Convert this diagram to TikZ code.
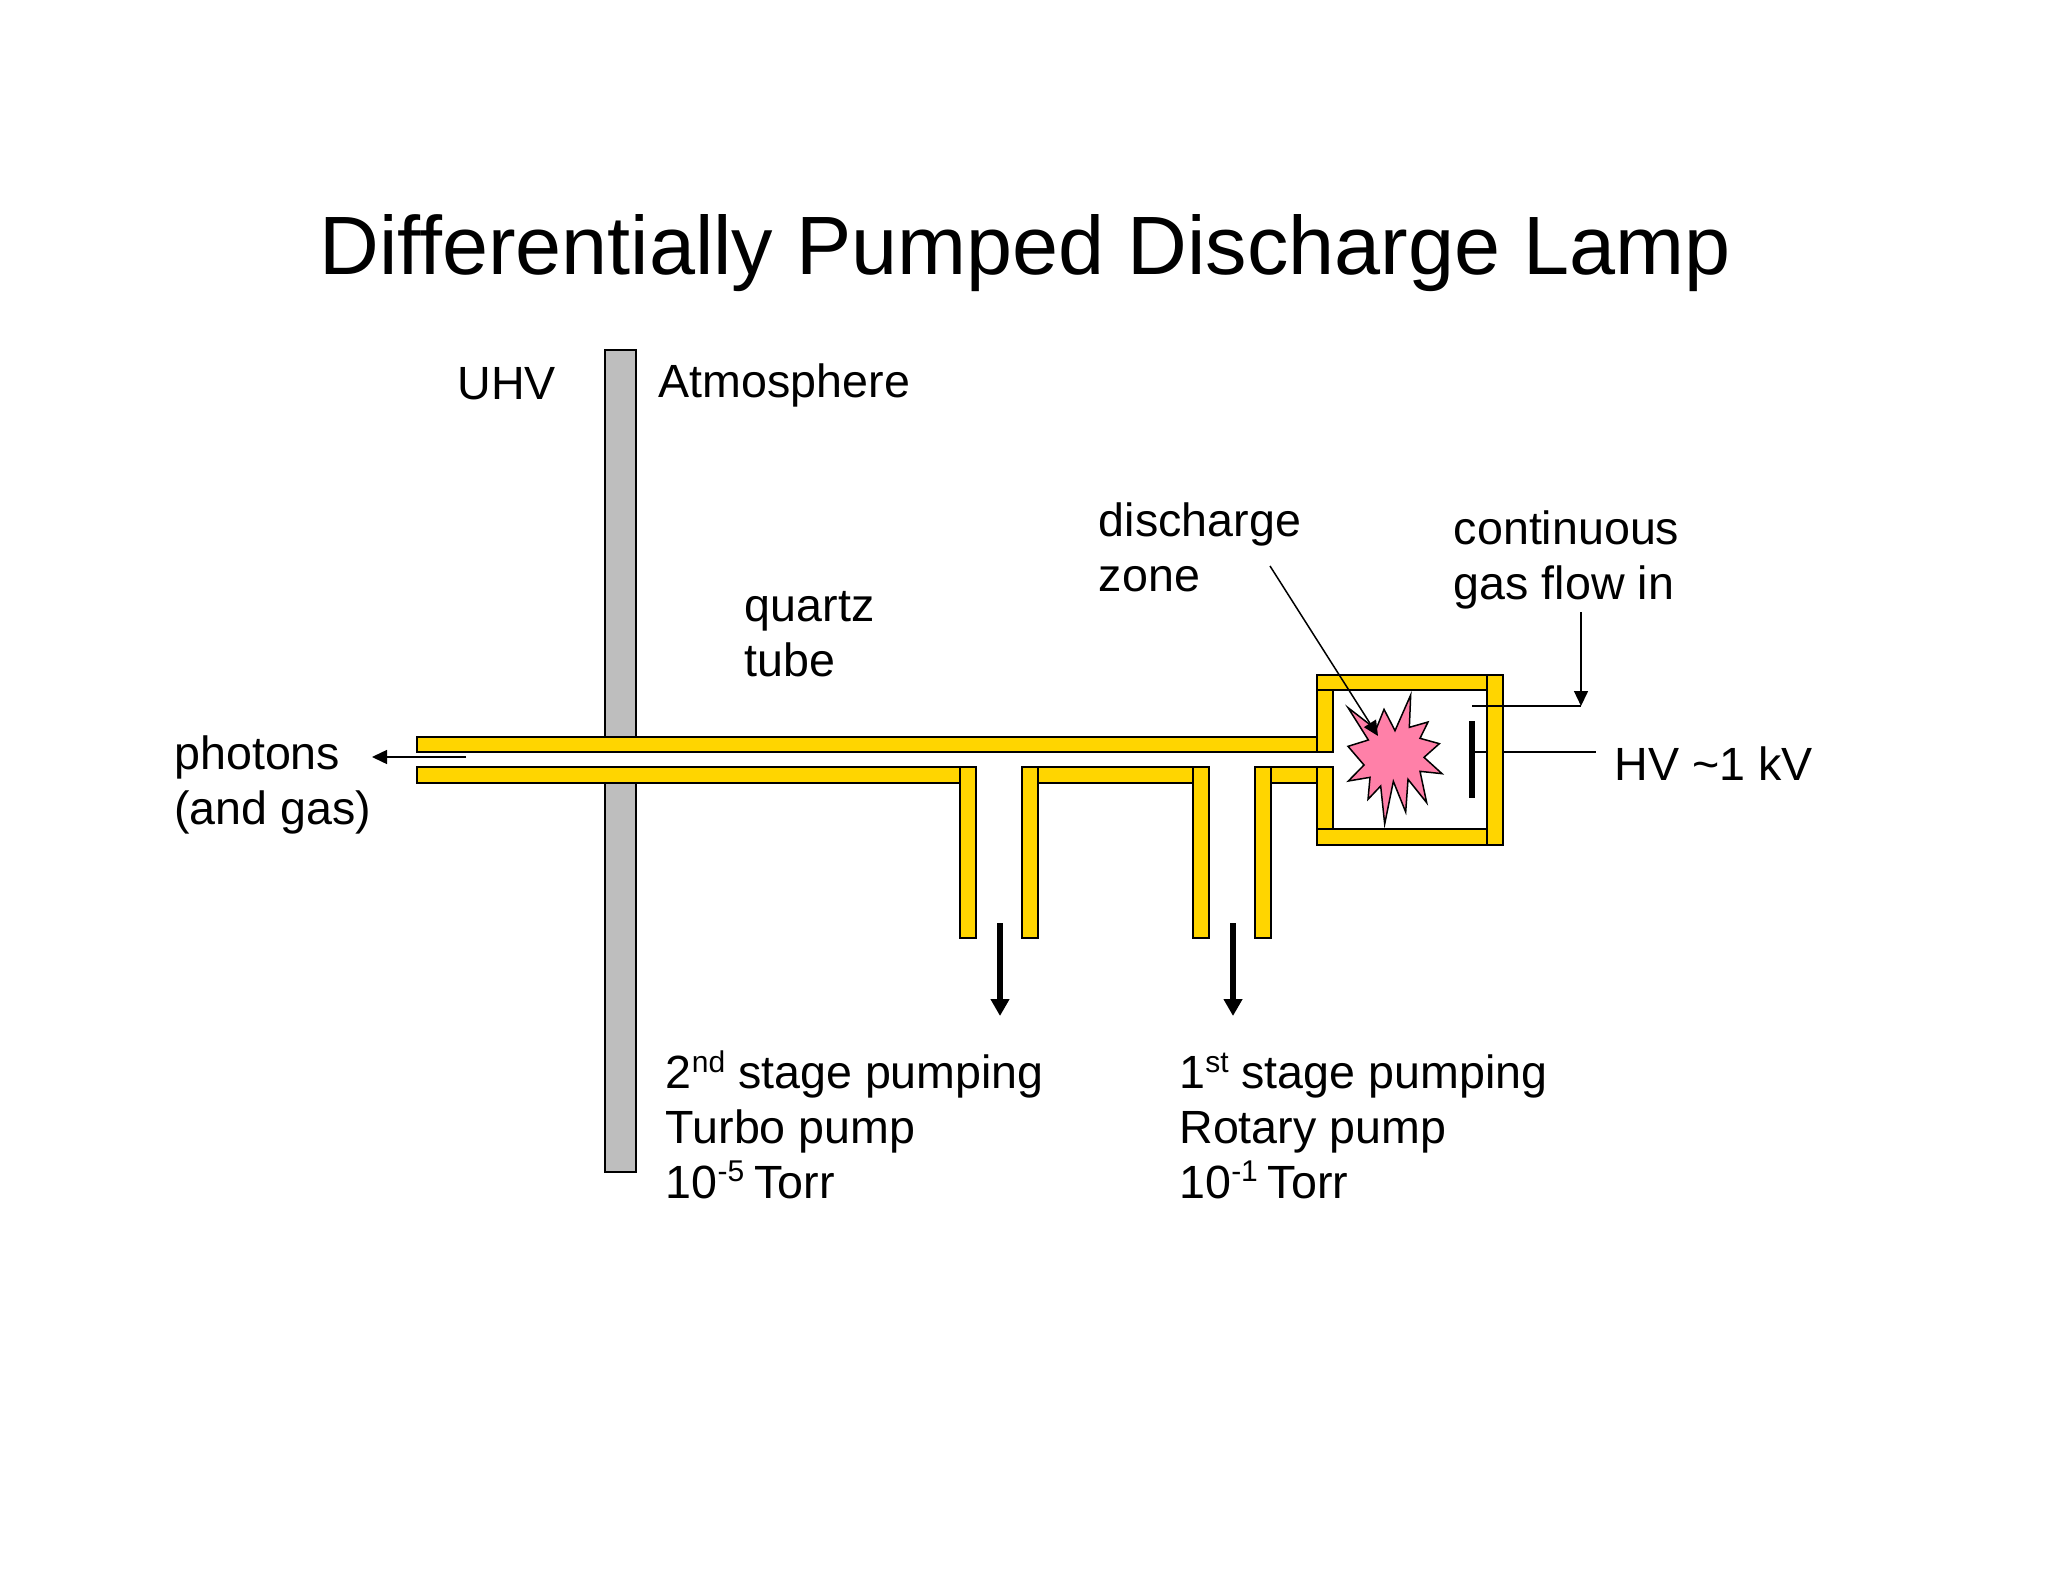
\documentclass[tikz,border=0pt]{standalone}
\usepackage{fontspec}
\setmainfont{Liberation Sans}
\usetikzlibrary{arrows.meta}
\definecolor{quartz}{HTML}{FFD500}
\definecolor{wallgrey}{HTML}{BEBEBE}
\definecolor{flash}{HTML}{FF80A8}
\newcommand{\supt}[1]{\raisebox{0.36em}{\fontsize{15}{18}\selectfont #1}}
\tikzset{
  x=0.5pt,y=-0.5pt,
  part/.style={draw=black,line width=0.85pt,fill=quartz},
  wall/.style={draw=black,line width=0.85pt,fill=wallgrey},
  label/.style={anchor=base west,inner sep=0pt,font=\fontsize{23.3}{27.3}\selectfont,align=left},
  thin line/.style={draw=black,line width=0.75pt},
  thin arrow/.style={thin line,-{Triangle[length=7.5pt,width=7pt]}},
  pump arrow/.style={draw=black,line width=3pt,-{Triangle[length=8.5pt,width=9pt]}},
}
\begin{document}
\begin{tikzpicture}
\useasboundingbox (0,0) rectangle (2048,1582);
\fill[white] (0,0) rectangle (2048,1582);
% title
\node[anchor=base,inner sep=0pt,font=\fontsize{41.4}{50}\selectfont] (title) at (1025,275) {Differentially Pumped Discharge Lamp};
% flange
\draw[wall] (605,350) rectangle (636,737);
\draw[wall] (605,783) rectangle (636,1172);
% tube
\draw[part] (417,737) rectangle (1317,752);
\draw[part] (417,767) rectangle (960,783);
\draw[part] (1038,767) rectangle (1193,783);
\draw[part] (1271,767) rectangle (1317,783);
\draw[part] (960,767) rectangle (976,938);
\draw[part] (1022,767) rectangle (1038,938);
\draw[part] (1193,767) rectangle (1209,938);
\draw[part] (1255,767) rectangle (1271,938);
% discharge box
\draw[part] (1317,690) rectangle (1333,752);
\draw[part] (1317,767) rectangle (1333,829);
\draw[part] (1317,675) rectangle (1487,690);
\draw[part] (1317,829) rectangle (1487,845);
\draw[part] (1487,675) rectangle (1503,845);
% discharge star
\draw[fill=flash,draw=black,line width=0.75pt,miter limit=10,shift={(1280,640)},x=0.16667pt,y=-0.16667pt]
 (392,165) -- (388,262) -- (444,246) -- (420,295) -- (478,311) -- (432,352) -- (486,401) -- (420,394)
 -- (440,488) -- (384,418) -- (377,516) -- (340,424) -- (314,552) -- (302,438) -- (264,478) -- (270,412)
 -- (205,423) -- (252,375) -- (204,319) -- (265,300) -- (204,203) -- (288,268) -- (312,208) -- (345,272) -- cycle;
% electrode
\fill[black] (1469,721) rectangle (1475,798);
\coordinate (electrode) at (1475,752);
\coordinate (rightwall) at (1487,752);
\draw[thin line] (electrode) -- (rightwall);
% connector ends
\coordinate (hvout) at (1503,752);
\coordinate (hvend) at (1596,752);
\coordinate (gasinner) at (1472,706);
\coordinate (gascorner) at (1581,706);
\coordinate (gastop) at (1581,612);
\coordinate (dztail) at (1270,566);
\coordinate (dzhead) at (1378,736);
\coordinate (phtail) at (466,757);
\coordinate (phhead) at (372,757);
\coordinate (p2a) at (1000,923);
\coordinate (p2b) at (1000,1016);
\coordinate (p1a) at (1233,923);
\coordinate (p1b) at (1233,1016);
\draw[thin line] (hvout) -- (hvend);
\draw[thin line] (gasinner) -- (gascorner);
\draw[thin arrow] (gastop) -- (gascorner);
\draw[thin arrow] (dztail) -- (dzhead);
\draw[thin arrow] (phtail) -- (phhead);
\draw[pump arrow] (p2a) -- (p2b);
\draw[pump arrow] (p1a) -- (p1b);
% labels
\node[label] (uhv) at (457,400) {UHV};
\node[label] (atm) at (658.5,398) {Atmosphere};
\node[label] (quartz) at (744.5,676) {quartz\\tube};
\node[label] (zone) at (1098.5,591.5) {discharge\\zone};
\node[label] (gas) at (1453.5,599) {continuous\\gas flow in};
\node[label] (phot) at (174,824) {photons\\(and gas)};
\node[label] (hv) at (1614,780) {HV \textasciitilde 1 kV};
\node[label] (second) at (665.5,1198) {2\supt{nd} stage pumping\\Turbo pump\\10\supt{-5}\hspace{-1.5pt} Torr};
\node[label] (first) at (1179,1198) {1\supt{st} stage pumping\\Rotary pump\\10\supt{-1}\hspace{-1.5pt} Torr};
\end{tikzpicture}
\end{document}
